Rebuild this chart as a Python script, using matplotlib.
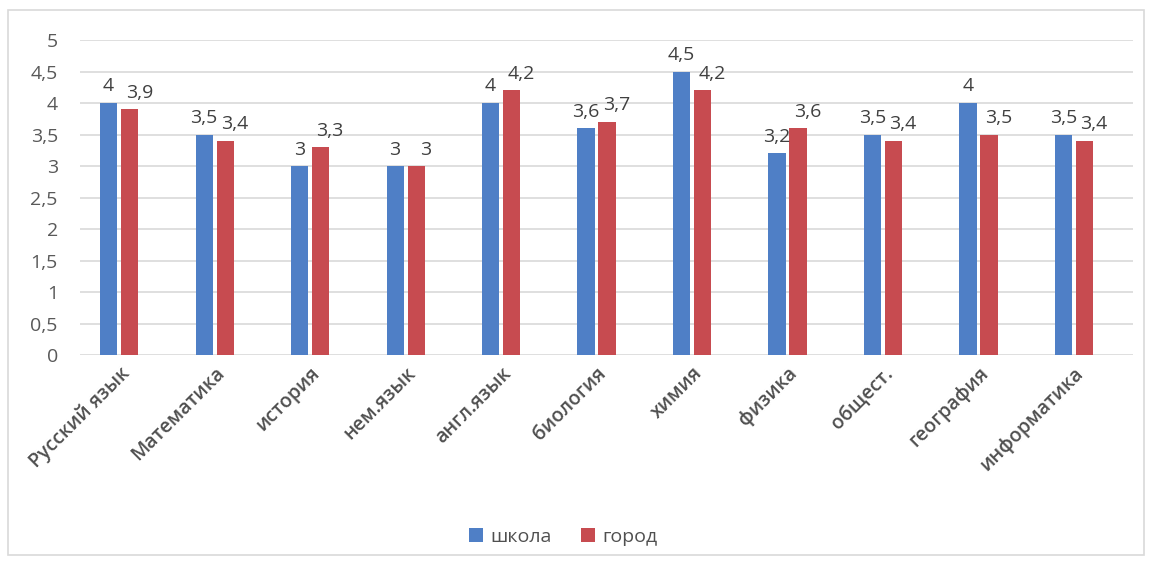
import matplotlib.pyplot as plt
import matplotlib.transforms as mtransforms
import numpy as np
from matplotlib.patches import Rectangle

# Данные
predmety = ['Русский язык', 'Математика', 'история', 'нем.язык', 'англ.язык',
            'биология', 'химия', 'физика', 'общест.', 'география', 'информатика']
shkola = [4, 3.5, 3, 3, 4, 3.6, 4.5, 3.2, 3.5, 4, 3.5]
gorod = [3.9, 3.4, 3.3, 3, 4.2, 3.7, 4.2, 3.6, 3.4, 3.5, 3.4]
y_ticks = [0, 0.5, 1, 1.5, 2, 2.5, 3, 3.5, 4, 4.5, 5]

plt.rcParams['font.family'] = ['Open Sans', 'DejaVu Sans']

def fmt(v):
    s = f"{v:g}"
    return s.replace('.', ',')

fig = plt.figure(figsize=(11.5, 5.63), dpi=100)
ax = fig.add_axes([0.0696, 0.369, 0.9157, 0.56])

x = np.arange(len(predmety))
w = 0.18
gap = 0.02
b1 = ax.bar(x - w / 2 - gap, shkola, w, color='#4F7FC6', label='школа', zorder=3)
b2 = ax.bar(x + w / 2 + gap, gorod, w, color='#C74B50', label='город', zorder=3)

for bar, v in zip(b1, shkola):
    ax.text(bar.get_x() + bar.get_width() / 2, v + 0.12, fmt(v), ha='center', va='bottom',
            fontsize=14, color='#404040')
for bar, v in zip(b2, gorod):
    ax.text(bar.get_x() + bar.get_width() / 2 + 0.1, v + 0.12, fmt(v), ha='center', va='bottom',
            fontsize=14, color='#404040')

ax.set_xlim(-0.41, 10.62)
ax.set_ylim(0, 5)
ax.set_yticks(y_ticks)
ax.set_yticklabels([fmt(t) for t in y_ticks], fontsize=14, color='#595959')
ax.set_xticks(x)
ax.set_xticklabels(predmety, rotation=45, ha='right', rotation_mode='anchor',
                   fontsize=14, fontweight='semibold', color='#505050')
# сдвиг подписей вправо
offset = mtransforms.ScaledTranslation(0.1, 0, fig.dpi_scale_trans)
for lbl in ax.get_xticklabels():
    lbl.set_transform(lbl.get_transform() + offset)
ax.tick_params(axis='both', length=0)
ax.tick_params(axis='y', pad=16)
ax.tick_params(axis='x', pad=6)
ax.grid(axis='y', color='#D9D9D9', linewidth=1.2, zorder=0)
for s in ax.spines.values():
    s.set_visible(False)

fig.legend(handles=[b1, b2], loc='center', bbox_to_anchor=(0.49, 0.047), ncol=2,
           frameon=False, fontsize=14, handlelength=0.7, handleheight=0.7,
           columnspacing=1.5, handletextpad=0.4, labelcolor='#505050')

# рамка
fig.patches.append(Rectangle((0.007, 0.014), 0.988, 0.968, transform=fig.transFigure,
                             fill=False, edgecolor='#D9D9D9', linewidth=1.2))

plt.savefig('out.png', dpi=100)
